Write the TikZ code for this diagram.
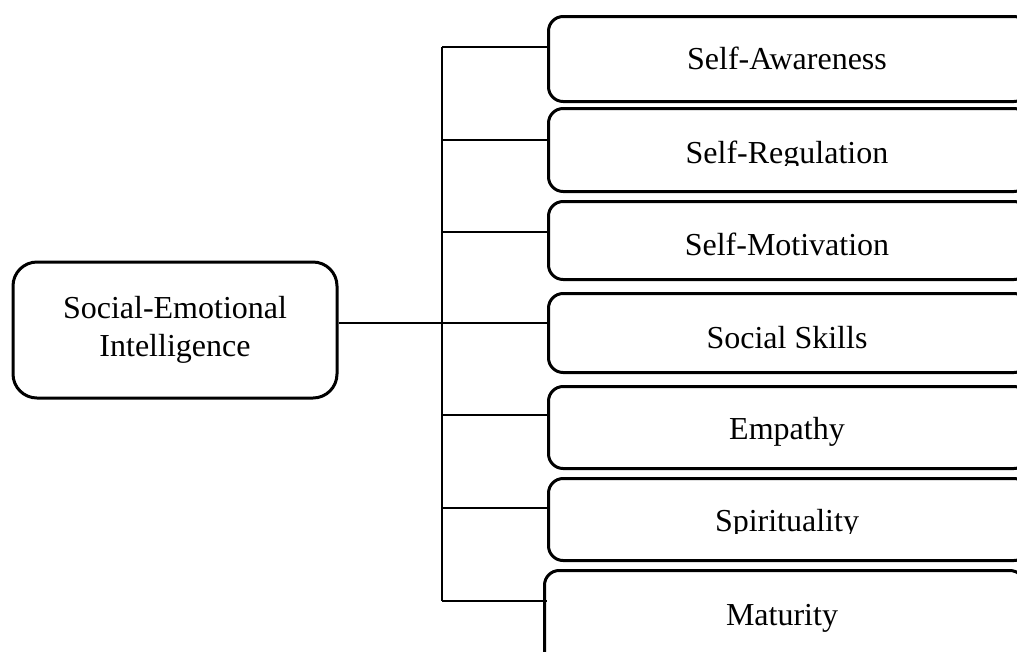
\documentclass[tikz,border=0pt]{standalone}
\usepackage{fontspec}
\setmainfont{Liberation Serif}
\begin{document}
\begin{tikzpicture}[x=0.75pt,y=-0.75pt,
  leaf/.style={draw, line width=2.25pt, rounded corners=11pt, minimum width=360pt, inner sep=0pt, anchor=north west},
  rootbox/.style={draw, line width=2.25pt, rounded corners=18pt, minimum width=243pt, minimum height=102pt, align=center, inner sep=0pt, font=\fontsize{24}{28.5}\selectfont},
  lbl/.style={anchor=base, inner sep=0pt, font=\fontsize{24}{27}\selectfont},
  branch/.style={line width=1pt},
  spineline/.style={line width=1.3pt},
  mainline/.style={line width=2pt}]
\useasboundingbox (0,0) rectangle (1017,651);
\clip (0,0) rectangle (1017,651);

% root
\node[rootbox] (root) at (175,330) {Social-Emotional\\Intelligence};

% leaf boxes
\node[leaf, minimum height=63.75pt] (b1) at (547,15) {};
\node[leaf, minimum height=62.25pt] (b2) at (547,107) {};
\node[leaf, minimum height=58.5pt]  (b3) at (547,200) {};
\node[leaf, minimum height=59.25pt] (b4) at (547,292) {};
\node[leaf, minimum height=61.5pt]  (b5) at (547,385) {};
\node[leaf, minimum height=61.5pt]  (b6) at (547,477) {};
\node[leaf, minimum height=75pt]    (b7) at (543,569) {};

% labels
\node[lbl] (t1) at (787,69) {Self-Awareness};
\begin{scope}
  \clip (550,110) rectangle (1017,165);
  \node[lbl] (t2) at (787,163) {Self-Regulation};
\end{scope}
\node[lbl] (t3) at (787,255) {Self-Motivation};
\node[lbl] (t4) at (787,348) {Social Skills};
\node[lbl] (t5) at (787,439) {Empathy};
\begin{scope}
  \clip (550,480) rectangle (1017,533);
  \node[lbl] (t6) at (787,531) {Spirituality};
\end{scope}
\node[lbl] (t7) at (782,625) {Maturity};

% junctions on the spine
\coordinate (j1) at (442,47);
\coordinate (j2) at (442,140);
\coordinate (j3) at (442,232);
\coordinate (j4) at (442,323);
\coordinate (j5) at (442,415);
\coordinate (j6) at (442,508);
\coordinate (j7) at (442,601);

\draw[spineline] (j1) -- (j7);
\draw[mainline] (root.east |- j4) -- (j4);
\draw[branch] (j1) -- (j1 -| b1.west);
\draw[branch] (j2) -- (j2 -| b2.west);
\draw[branch] (j3) -- (j3 -| b3.west);
\draw[branch] (j4) -- (j4 -| b4.west);
\draw[branch] (j5) -- (j5 -| b5.west);
\draw[branch] (j6) -- (j6 -| b6.west);
\draw[branch] (j7) -- ([xshift=3pt]j7 -| b7.west);
\end{tikzpicture}
\end{document}
